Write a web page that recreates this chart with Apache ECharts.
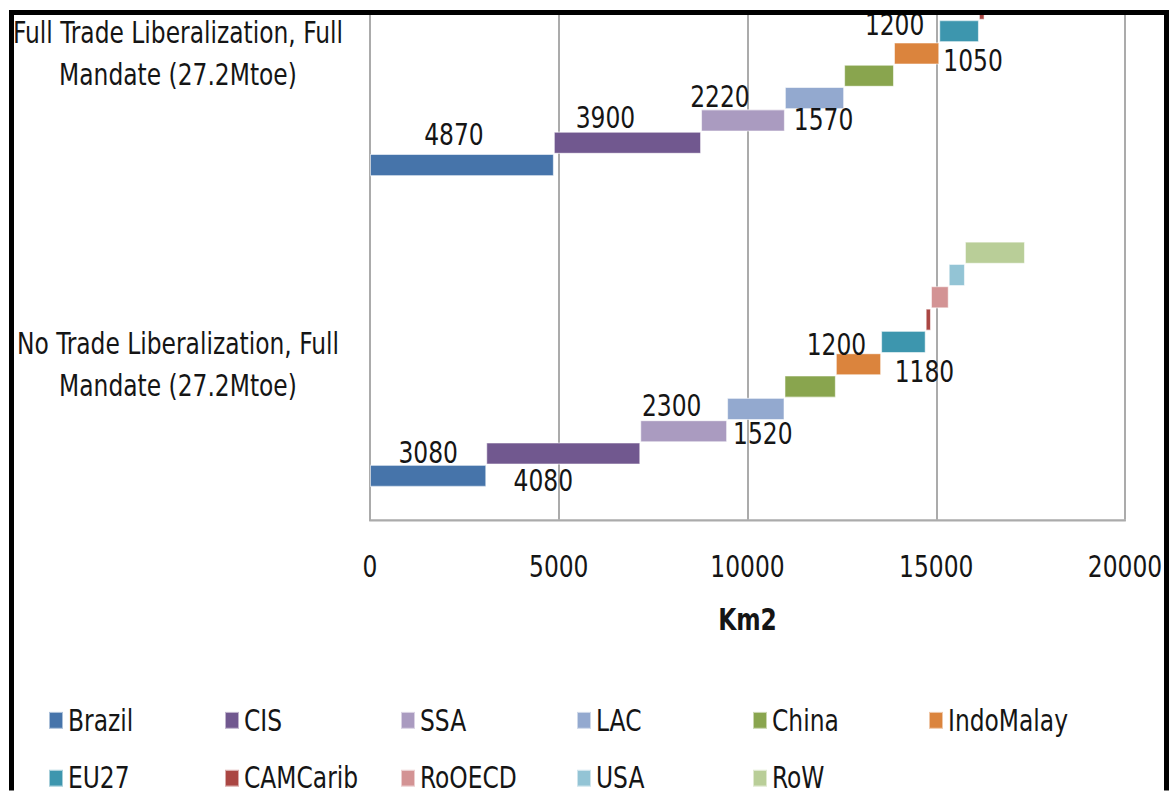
<!DOCTYPE html>
<html>
<head>
<meta charset="utf-8">
<script src="https://cdn.jsdelivr.net/npm/echarts@6/dist/echarts.min.js"></script>
<style>
  html, body { margin: 0; padding: 0; background: #ffffff; }
  #page { width: 1171px; height: 791px; overflow: hidden; position: relative; }
  /* Glyphs are drawn tall and narrow: lay the chart out short and stretch it vertically */
  #chart { position: absolute; left: 0; top: 0; width: 1171px; height: 670px; transform: scaleY(1.18); transform-origin: 0 0; }
</style>
</head>
<body>
<div id="page"><div id="chart"></div></div>
<script>
// Scenarios on the category axis (bottom to top)
const scenarios = [
  'No Trade Liberalization, Full\nMandate (27.2Mtoe)',
  'Full Trade Liberalization, Full\nMandate (27.2Mtoe)'
];
const regions = ['Brazil', 'CIS', 'SSA', 'LAC', 'China', 'IndoMalay', 'EU27', 'CAMCarib', 'RoOECD', 'USA', 'RoW'];

// Land-use change per region, Km2
const noTradeLib   = [3080, 4080, 2300, 1520, 1360, 1200, 1180, 140, 470, 430, 1590];
const fullTradeLib = [4870, 3900, 2220, 1570, 1320, 1200, 1050, 150, 450, 400, 1500];

// Regions whose block carries a value label
const labelledRegions = ['Brazil', 'CIS', 'SSA', 'LAC', 'IndoMalay', 'EU27'];

// Value axis ticks
const xMin = 0, xMax = 20000, xStep = 5000;

const colors = ['#4674AA', '#71588F', '#AA9BC0', '#93A9CF', '#89A54E', '#DB843D',
                '#3D96AE', '#AA4643', '#D39394', '#93C4D5', '#B9CE98'];

// Label placement [position, horizontal shift, vertical shift] per scenario
const labelPlacement = [
  { Brazil: ['top', 0, 2], CIS: ['bottom', -20, 2], SSA: ['top', -12, 0], LAC: ['bottom', 7, 0], IndoMalay: ['top', -22, 6], EU27: ['bottom', 21, 4] },
  { Brazil: ['top', -8, -5], CIS: ['top', -22, 0], SSA: ['top', -23, 2], LAC: ['bottom', 9, -4], IndoMalay: ['top', -22, -3], EU27: ['bottom', 14, 4] }
];

const FONT = '"Liberation Sans Narrow", "DejaVu Sans Condensed", "Liberation Sans", sans-serif';
const TEXT = '#151515';
const GRID = '#ABABAB';
const FS = 26;
const STRETCH = 1.18;

const scenarioValues = [noTradeLib, fullTradeLib];

// Running start of each block so the regions step along the axis
const starts = scenarioValues.map(vals => {
  let acc = 0;
  return vals.map(v => { const s = acc; acc += v; return s; });
});

const series = [];
// Clusters are filled top-down, so add the regions in reverse to keep Brazil lowest
for (let i = regions.length - 1; i >= 0; i--) {
  const name = regions[i];
  const stack = 'r' + i;
  series.push({
    type: 'bar',
    stack: stack,
    silent: true,
    barGap: '0%',
    barCategoryGap: '21%',
    itemStyle: { color: 'transparent' },
    data: starts.map(s => s[i])
  });
  series.push({
    name: name,
    type: 'bar',
    stack: stack,
    barGap: '0%',
    barCategoryGap: '21%',
    itemStyle: { color: colors[i], borderColor: 'rgba(255,255,255,0.55)', borderWidth: 1 },
    data: scenarioValues.map((vals, c) => {
      const item = { value: vals[i] };
      if (labelledRegions.includes(name)) {
        const p = labelPlacement[c][name];
        item.label = {
          show: true,
          position: p[0],
          offset: [p[1], p[2] / STRETCH],
          distance: -1,
          fontFamily: FONT,
          fontSize: FS,
          lineHeight: FS,
          color: TEXT
        };
      }
      return item;
    })
  });
}

const chart = echarts.init(document.getElementById('chart'), null, { renderer: 'svg' });
chart.setOption({
  backgroundColor: '#ffffff',
  animation: false,
  grid: { left: 370, right: 46, top: -86.4, bottom: 229.6, outerBoundsMode: 'none', containLabel: false },
  xAxis: {
    type: 'value',
    min: xMin, max: xMax, interval: xStep,
    axisLine: { show: true, lineStyle: { color: GRID, width: 2 } },
    axisTick: { show: false },
    splitLine: { show: true, lineStyle: { color: GRID, width: 2 } },
    axisLabel: { fontFamily: FONT, fontSize: FS, color: TEXT, margin: 27, formatter: v => String(v) },
    name: 'Km2',
    nameLocation: 'middle',
    nameGap: 72,
    nameTextStyle: { fontFamily: FONT, fontSize: FS, fontWeight: 'bold', color: TEXT }
  },
  yAxis: {
    type: 'category',
    data: scenarios,
    axisLine: { show: true, lineStyle: { color: GRID, width: 2 } },
    axisTick: { show: false },
    axisLabel: { fontFamily: FONT, fontSize: FS, lineHeight: 35.6, color: TEXT, align: 'center', margin: 192 }
  },
  legend: {
    data: regions,
    left: 48,
    top: 597.5,
    padding: 0,
    width: 1062,
    itemWidth: 14,
    itemHeight: 14.4,
    itemGap: 23,
    icon: 'rect',
    selectedMode: false,
    textStyle: { fontFamily: FONT, fontSize: FS, lineHeight: 26, color: TEXT, width: 133 }
  },
  graphic: [
    { type: 'rect', z: 100, shape: { x: 0, y: -5, width: 1171, height: 13.5 }, style: { fill: '#ffffff' } },
    { type: 'rect', z: 101, shape: { x: 9, y: 8.47, width: 1160, height: 4.24 }, style: { fill: '#000000' } },
    { type: 'rect', z: 101, shape: { x: 9, y: 8.47, width: 5, height: 700 }, style: { fill: '#000000' } },
    { type: 'rect', z: 101, shape: { x: 1164, y: 8.47, width: 5, height: 700 }, style: { fill: '#000000' } }
  ],
  series: series
});
</script>
</body>
</html>
